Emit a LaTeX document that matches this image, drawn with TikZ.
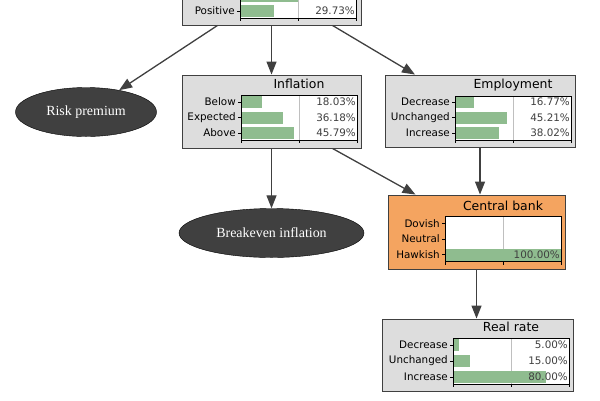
\documentclass[tikz,border=0pt]{standalone}
\usepackage{fontspec}
\setmainfont{DejaVu Sans}
\newfontfamily\ellfont{Liberation Serif}
\usetikzlibrary{arrows.meta,shapes.geometric}
\definecolor{boxgray}{RGB}{221,221,221}
\definecolor{bargreen}{RGB}{143,188,143}
\definecolor{cbank}{RGB}{244,164,96}
\definecolor{edgegray}{RGB}{64,64,64}

\begin{document}
\begin{tikzpicture}[x=1bp,y=-1bp,
  cpt/.style={draw=edgegray,line width=0.9bp,fill=boxgray,inner sep=0pt},
  latent/.style={ellipse,draw=black,fill=edgegray,text=white,inner sep=0pt,
    font=\ellfont\fontsize{14}{16}\selectfont},
  plotframe/.style={draw=black,line width=0.8bp},
  gridline/.style={draw=black!25,line width=0.9bp},
  lab/.style={anchor=east,inner sep=0pt,font=\fontsize{10.4}{12}\selectfont},
  pct/.style={anchor=east,inner sep=0pt,text=black!75,font=\fontsize{10.4}{12}\selectfont},
  ttl/.style={inner sep=0pt,font=\fontsize{12.5}{14}\selectfont},
  link/.style={draw=edgegray,line width=1.3bp,-{Triangle[length=13bp,width=10bp]}}
]
  \clip (0,0) rectangle (600,400);

  % boxes
  \node[cpt,minimum width=179bp,minimum height=85bp] (surp) at (271.5,-17.5) {};
  \node[cpt,minimum width=179bp,minimum height=73bp] (infl) at (271.5,111.5) {};
  \node[cpt,minimum width=190bp,minimum height=72bp] (empl) at (480,111) {};
  \node[cpt,fill=cbank,minimum width=177bp,minimum height=74bp] (cb) at (476.5,232) {};
  \node[cpt,minimum width=191bp,minimum height=72bp] (real) at (477.5,355) {};
  \node[latent,minimum width=141bp,minimum height=49bp] (risk) at (86,112) {Risk premium};
  \node[latent,minimum width=185bp,minimum height=49bp] (bei) at (271.5,233) {Breakeven inflation};

  % plot areas and titles
  \foreach \L/\T/\B/\name in {240/-40/18/{}, 241/95/140/Inflation, 455/96/140/Employment,
      445/216.5/261.5/Central bank, 453/338/384/Real rate} {
    \fill[white] (\L,\T) rectangle ({\L+116},\B);
    \draw[gridline] ({\L+58},\T) -- ({\L+58},\B);
    \node[ttl] at ({\L+58},{\T-11}) {\name};
  }

  % rows: bar, tick, label, value
  \foreach \L/\y/\lab/\val/\txt in {240/-4.5/{}/50/{}, 240/11/Positive/29.73/29.73\%,
      241/102/Below/18.03/18.03\%, 241/117.5/Expected/36.18/36.18\%, 241/133/Above/45.79/45.79\%,
      455/102/Decrease/16.77/16.77\%, 455/117.5/Unchanged/45.21/45.21\%, 455/133/Increase/38.02/38.02\%,
      445/223.5/Dovish/0/{}, 445/239/Neutral/0/{}, 445/254.5/Hawkish/100/100.00\%,
      453/345/Decrease/5/5.00\%, 453/361/Unchanged/15/15.00\%, 453/377/Increase/80/80.00\%} {
    \fill[bargreen] (\L,{\y-6}) rectangle ({\L+1.16*\val},{\y+6});
    \draw[line width=0.7bp] ({\L-3},\y) -- (\L,\y);
    \node[lab] at ({\L-5},\y) {\lab};
    \node[pct] at ({\L+115},\y) {\txt};
  }

  % frames and bottom ticks
  \foreach \L/\T/\B in {240/-40/18, 241/95/140, 455/96/140, 445/216.5/261.5, 453/338/384} {
    \draw[plotframe] (\L,\T) rectangle ({\L+116},\B);
    \foreach \dx in {0,58,116}
      \draw[line width=0.7bp] ({\L+\dx},\B) -- ({\L+\dx},{\B+3});
  }

  % links
  \draw[link] ([xshift=-54bp]surp.south) -- (risk);
  \draw[link] (surp.south) -- (infl.north);
  \draw[link] ([xshift=61bp]surp.south) -- ([xshift=-65bp]empl.north);
  \draw[link] (infl.south) -- (bei);
  \draw[link] ([xshift=61bp]infl.south) -- ([xshift=-61bp]cb.north);
  \draw[link] (empl.south) -- (empl.south |- cb.north);
  \draw[link] (cb.south) -- (cb.south |- real.north);
\end{tikzpicture}
\end{document}
